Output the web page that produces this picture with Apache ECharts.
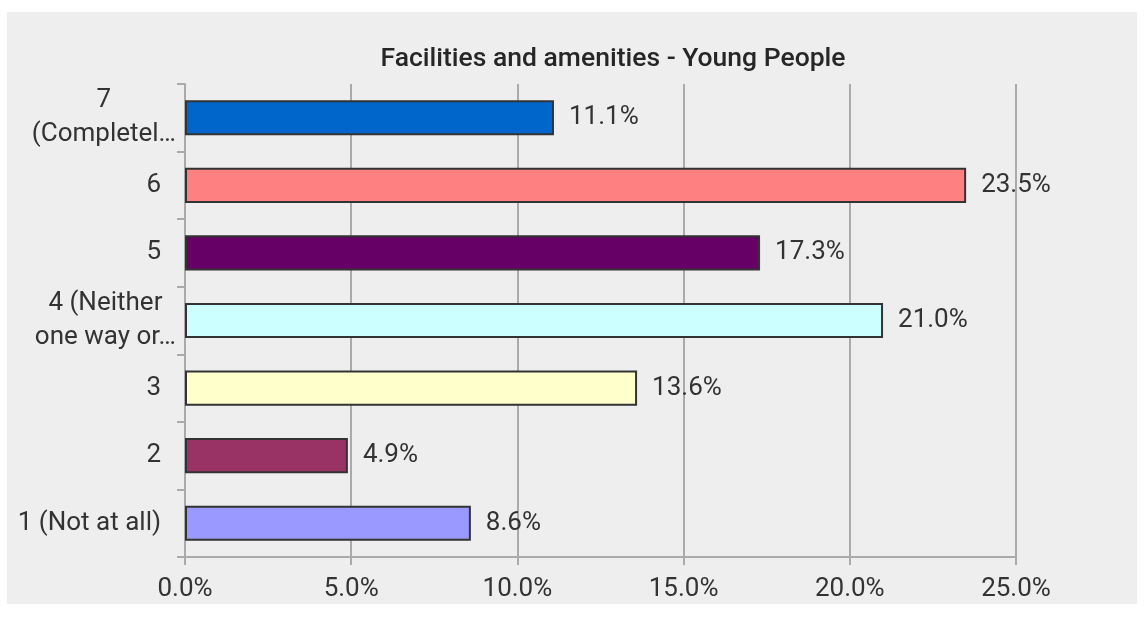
<!DOCTYPE html>
<html>
<head>
<meta charset="utf-8">
<script src="https://cdn.jsdelivr.net/npm/echarts@6/dist/echarts.min.js"></script>
<style>
  html, body { margin: 0; padding: 0; background: #fff; }
  #chart { width: 1146px; height: 632px; }
</style>
</head>
<body>
<div id="chart"></div>
<script>
const categories = ['1 (Not at all)', '2', '3', '4 (Neither\none way or…', '5', '6', '7\n(Completel…']
const values = [8.6, 4.9, 13.6, 21.0, 17.3, 23.5, 11.1]
const barColors = ['#9999FF', '#993366', '#FFFFCC', '#CCFFFF', '#660066', '#FF8080', '#0066CC']
const xTicks = [0, 5, 10, 15, 20, 25]

const chart = echarts.init(document.getElementById('chart'))
const font = 'Roboto, "Liberation Sans", Arial, sans-serif'
const fs = 26

chart.setOption({
  animation: false,
  textStyle: { fontFamily: font },
  graphic: [{
    type: 'rect',
    z: -10,
    shape: { x: 7, y: 12, width: 1130, height: 592 },
    style: { fill: '#eeeeee' },
  }],
  title: {
    text: 'Facilities and amenities - Young People',
    left: 608,
    textAlign: 'center',
    top: 41,
    textStyle: { fontFamily: font, fontSize: 26.5, fontWeight: 500, color: '#262626' },
  },
  grid: { left: 185, right: 130, top: 84, bottom: 75 },
  xAxis: {
    type: 'value',
    min: xTicks[0],
    max: xTicks[xTicks.length - 1],
    interval: 5,
    axisLine: { show: true, lineStyle: { color: '#aaaaaa', width: 2 } },
    axisTick: { show: true, length: 8, lineStyle: { color: '#aaaaaa', width: 2 } },
    splitLine: { show: true, lineStyle: { color: '#aaaaaa', width: 2 } },
    axisLabel: {
      margin: 19,
      fontSize: fs,
      color: '#333',
      fontFamily: font,
      formatter: (v) => v.toFixed(1) + '%',
    },
  },
  yAxis: {
    type: 'category',
    data: categories,
    axisLine: { show: true, lineStyle: { color: '#aaaaaa', width: 2 } },
    axisTick: { show: true, length: 8, lineStyle: { color: '#aaaaaa', width: 2 } },
    axisLabel: {
      margin: 9,
      fontSize: fs,
      color: '#333',
      fontFamily: font,
      formatter: (v) => (v.indexOf('\n') >= 0 ? '{m|' + v + '}' : '{s|' + v + '}'),
      rich: {
        m: { fontSize: fs, color: '#333', fontFamily: font, lineHeight: 34, align: 'center' },
        s: { fontSize: fs, color: '#333', fontFamily: font, padding: [0, 15, 0, 0] },
      },
    },
  },
  series: [{
    type: 'bar',
    barCategoryGap: '48%',
    data: values.map((v, i) => ({
      value: v,
      itemStyle: { color: barColors[i] },
    })),
    itemStyle: { borderColor: '#333333', borderWidth: 2 },
    label: {
      show: true,
      position: 'right',
      distance: 15,
      fontSize: fs,
      color: '#333',
      fontFamily: font,
      formatter: (p) => p.value.toFixed(1) + '%',
    },
  }],
})
</script>
</body>
</html>
